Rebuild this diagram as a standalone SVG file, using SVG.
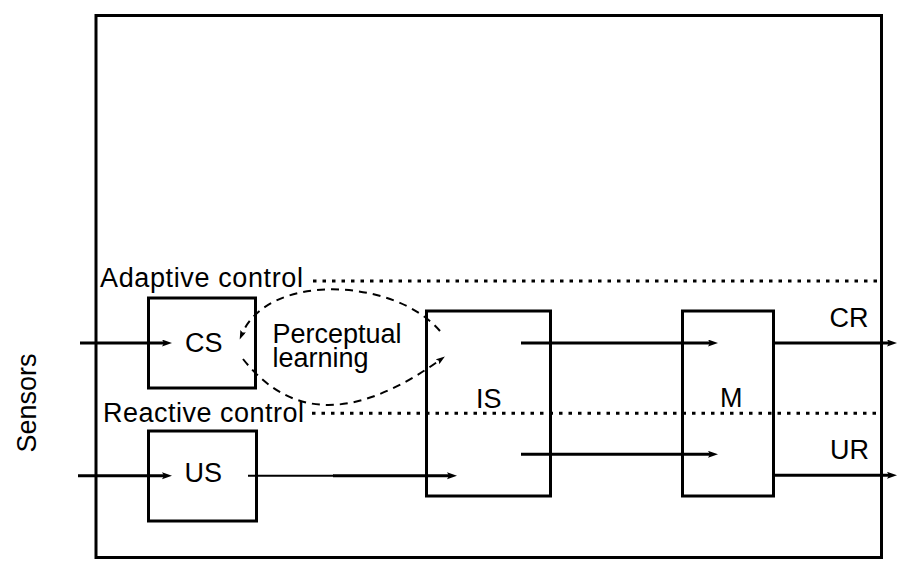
<svg xmlns="http://www.w3.org/2000/svg" width="904" height="576" viewBox="0 0 904 576">
  <style>
    .box { fill: none; stroke: #000; stroke-width: 3; }
    .lbl { font-family: "Liberation Sans", Arial, Helvetica, sans-serif; font-size: 27px; fill: #000; }
    .wire { fill: none; stroke: #000; stroke-width: 3; }
    .dot { fill: none; stroke: #000; stroke-width: 3; stroke-dasharray: 3.5 6; }
    .dash { fill: none; stroke: #000; stroke-width: 2; stroke-dasharray: 8 6; }
  </style>
  <defs>
    <marker id="arr" markerUnits="userSpaceOnUse" markerWidth="12" markerHeight="8" refX="4" refY="3.5" orient="auto">
      <path d="M0,0 L10,3.5 L0,7 L2,3.5 z" fill="#000"/>
    </marker>
    <marker id="arrs" markerUnits="userSpaceOnUse" markerWidth="10" markerHeight="8" refX="3" refY="3" orient="auto">
      <path d="M0,0 L9,3 L0,6 L1.5,3 z" fill="#000"/>
    </marker>
  </defs>
  <rect width="904" height="576" fill="#fff"/>

  <g id="frame">
    <rect class="box" x="96" y="15.5" width="785.5" height="542"/>
  </g>

  <g id="layers">
    <text class="lbl" x="100" y="287" textLength="203">Adaptive control</text>
    <line class="dot" x1="313" y1="281" x2="878" y2="281"/>
    <text class="lbl" x="103" y="421.7" textLength="201">Reactive control</text>
    <line class="dot" x1="312" y1="413.3" x2="878" y2="413.3"/>
  </g>

  <g id="sensors">
    <text class="lbl" text-anchor="middle" transform="translate(36,403) rotate(-90)">Sensors</text>
  </g>

  <g id="CS">
    <rect class="box" x="148.5" y="298" width="107" height="90"/>
    <text class="lbl" x="185" y="351.7">CS</text>
  </g>

  <g id="US">
    <rect class="box" x="148.5" y="431" width="108" height="90"/>
    <text class="lbl" x="184.5" y="481.7">US</text>
  </g>

  <g id="IS">
    <rect class="box" x="426.5" y="311" width="124" height="185"/>
    <text class="lbl" x="476" y="408.3">IS</text>
  </g>

  <g id="M">
    <rect class="box" x="682.5" y="311" width="91" height="185"/>
    <text class="lbl" x="720" y="407">M</text>
  </g>

  <g id="learning">
    <text class="lbl"><tspan x="272.5" y="343">Perceptual</tspan><tspan x="272.5" y="366.7">learning</tspan></text>
  </g>

  <g id="outputs">
    <text class="lbl" x="829.5" y="327">CR</text>
    <text class="lbl" x="830" y="459">UR</text>
  </g>

  <g id="connectors">
    <line class="wire" x1="80" y1="343" x2="166" y2="343" marker-end="url(#arr)"/>
    <line class="wire" x1="78" y1="475.7" x2="166" y2="475.7" marker-end="url(#arr)"/>
    <line fill="none" stroke="#000" stroke-width="2" x1="248" y1="475.7" x2="334" y2="475.7"/>
    <line class="wire" x1="333" y1="475.7" x2="451" y2="475.7" marker-end="url(#arr)"/>
    <line class="wire" x1="521" y1="343" x2="712" y2="343" marker-end="url(#arr)"/>
    <line class="wire" x1="521" y1="454.3" x2="712" y2="454.3" marker-end="url(#arr)"/>
    <line class="wire" x1="773" y1="343" x2="891" y2="343" marker-end="url(#arr)"/>
    <line class="wire" x1="773" y1="475.3" x2="891" y2="475.3" marker-end="url(#arr)"/>
    <path class="dash" d="M440,331 C395,278 268,272 242,334" marker-end="url(#arrs)"/>
    <path class="dash" d="M243,359 C296,426 364,414 440,360" marker-end="url(#arrs)"/>
  </g>
</svg>
